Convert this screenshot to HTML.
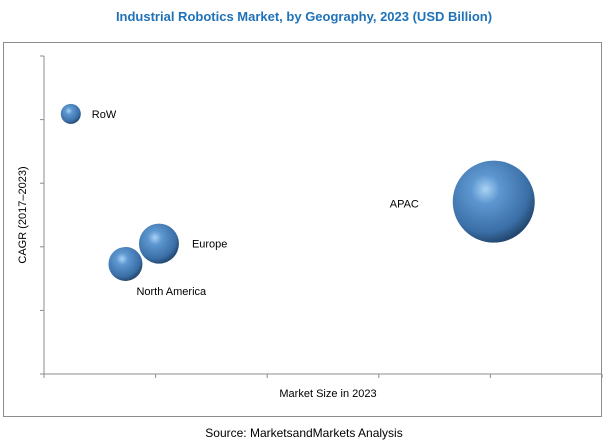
<!DOCTYPE html>
<html><head><meta charset="utf-8"><style>
body{margin:0;background:#fff;width:607px;height:443px;overflow:hidden;font-family:"Liberation Sans",sans-serif}
</style></head><body>
<svg width="607" height="443">
<defs>
<radialGradient id="g" cx="0.4" cy="0.35" r="0.7">
<stop offset="0" stop-color="#a9d2f5"/><stop offset="0.25" stop-color="#5e97d0"/>
<stop offset="0.75" stop-color="#3a6ea6"/><stop offset="1" stop-color="#1d3d60"/>
</radialGradient>
</defs>
<text x="304" y="21" text-anchor="middle" font-size="13" font-weight="bold" fill="#1f72b8">Industrial Robotics Market, by Geography, 2023 (USD Billion)</text>
<rect x="3.5" y="42.5" width="598" height="374" fill="none" stroke="#8c8c8c"/>
<g id="axes"></g>
<g id="marks"></g>
<text x="328" y="397" text-anchor="middle" font-size="11" fill="#000">Market Size in 2023</text>
<text transform="translate(26,215) rotate(-90)" text-anchor="middle" font-size="11" fill="#000">CAGR (2017–2023)</text>
<text x="304" y="437" text-anchor="middle" font-size="12" fill="#000">Source: MarketsandMarkets Analysis</text>
</svg>
<script>
const regions=["RoW","North America","Europe","APAC"];
const marketSize=[0.24,0.73,1.03,4.03];
const cagr=[4.09,1.73,2.05,2.71];
const bubbleSize=[10,17,20,41];
const xTicks=[0,1,2,3,4,5];
const yTicks=[0,1,2,3,4,5];
const NS="http://www.w3.org/2000/svg";
const x0=44,x1=602,y0=374,y1=56;
const xs=v=>x0+(v/5)*(x1-x0);
const ys=v=>y0-(v/5)*(y0-y1);
function mk(t,a,p){const e=document.createElementNS(NS,t);for(const k in a)e.setAttribute(k,a[k]);p.appendChild(e);return e;}
const ax=document.getElementById('axes');
let l=mk('line',{x1:x0-3,y1:y0,x2:x1,y2:y0,stroke:'#8c8c8c'},ax);


l=mk('line',{x1:x0,y1:y1,x2:x0,y2:y0,stroke:'#8c8c8c'},ax);


xTicks.forEach(t=>{const e=mk('line',{x1:xs(t),y1:y0,x2:xs(t),y2:y0+4,stroke:'#8c8c8c'},ax);

});
yTicks.forEach(t=>{const e=mk('line',{x1:x0-4,y1:ys(t),x2:x0,y2:ys(t),stroke:'#8c8c8c'},ax);

});
const mg=document.getElementById('marks');
const lab=[[21,4],[11,31],[33,4],[-104,6]];
regions.forEach((r,i)=>{
const cx=xs(marketSize[i]),cy=ys(cagr[i]);
const c=mk('circle',{cx:cx,cy:cy,r:bubbleSize[i],fill:'url(#g)'},mg);


const t=mk('text',{x:cx+lab[i][0],y:cy+lab[i][1],'font-size':'11',fill:'#000'},mg);
t.textContent=r;


});
</script>
</body></html>
